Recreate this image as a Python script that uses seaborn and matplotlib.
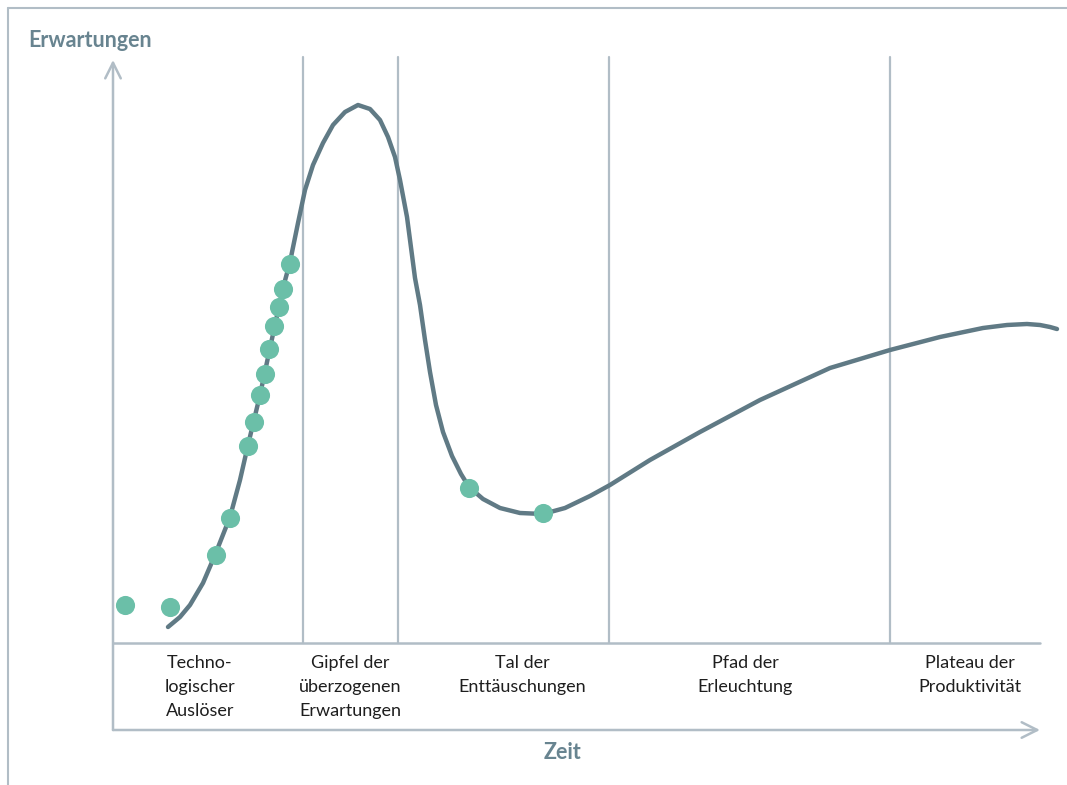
import numpy as np
import pandas as pd
import matplotlib
matplotlib.use("Agg")
import matplotlib.pyplot as plt
import seaborn as sns

# hype curve, time (t) vs expectation (e)
curve_t = [5.5, 6.7, 7.7, 9.0, 10.2, 11.7, 12.7, 13.5, 14.7, 15.7, 17.0, 17.7, 18.5,
           19.2, 20.0, 21.0, 22.0, 23.2, 24.5, 25.7, 26.7, 27.5, 28.2, 28.7, 29.4,
           30.2, 30.7, 31.2, 31.7, 32.3, 33.0, 33.9, 34.8, 35.6, 37.0, 38.7, 40.7,
           43.0, 45.2, 47.7, 49.7, 53.7, 58.7, 64.7, 71.7, 77.7, 82.7, 87.0, 89.4,
           91.4, 92.7, 93.7, 94.4]
curve_e = [1.6, 2.6, 3.8, 6.0, 8.8, 12.6, 16.3, 19.8, 24.8, 29.5, 35.5, 38.1, 42.0,
           45.3, 47.8, 50.0, 51.8, 53.1, 53.8, 53.4, 52.3, 50.6, 48.6, 46.3, 42.6,
           36.5, 33.8, 30.3, 27.1, 23.8, 21.1, 18.7, 16.9, 15.6, 14.4, 13.5, 13.0,
           12.9, 13.5, 14.7, 15.8, 18.3, 21.1, 24.3, 27.5, 29.3, 30.6, 31.5, 31.8,
           31.9, 31.8, 31.6, 31.4]

# technologies placed on the curve
dots_t = [1.2, 5.7, 10.3, 11.7, 13.5, 14.1, 14.7, 15.2, 15.6, 16.1, 16.6, 17.0, 17.7, 35.6, 43.0]
dots_e = [3.8, 3.6, 8.8, 12.5, 19.7, 22.1, 24.8, 26.9, 29.4, 31.7, 33.6, 35.4, 37.9, 15.5, 13.0]

phase_bounds = [19.0, 28.5, 49.6, 77.7]
phase_labels = ["Techno-\nlogischer\nAuslöser", "Gipfel der\nüberzogenen\nErwartungen",
                "Tal der\nEnttäuschungen", "Pfad der\nErleuchtung", "Plateau der\nProduktivität"]
phase_label_t = [8.7, 23.7, 40.9, 63.2, 85.7]

sns.set_style("white")
plt.rcParams["font.family"] = ["Lato", "DejaVu Sans"]

axis_col = "#B1BDC6"
curve_col = "#607A85"
dot_col = "#6BBFA8"
title_col = "#688490"

fig = plt.figure(figsize=(10.67, 7.85), dpi=100)
ax = fig.add_axes([0, 0, 1, 1])
ax.set_xlim(-11.3, 95.4)
ax.set_ylim(-14.2, 64.3)
ax.axis("off")

# outer frame (top and left)
ax.plot([-10.5, 95.4], [63.5, 63.5], color=axis_col, lw=1.5)
ax.plot([-10.5, -10.5], [-14.2, 63.5], color=axis_col, lw=1.5)

# phase separators
for b in phase_bounds:
    ax.plot([b, b], [0, 58.6], color=axis_col, lw=1.6)
ax.plot([0, 92.7], [0, 0], color=axis_col, lw=1.8)

# axes with arrows
arrow = dict(arrowstyle="->", color=axis_col, lw=1.8, mutation_scale=28, shrinkA=0, shrinkB=0)
ax.annotate("", xy=(0, 58.3), xytext=(0, -8.7), arrowprops=arrow)
ax.annotate("", xy=(92.7, -8.7), xytext=(0, -8.7), arrowprops=arrow)

df_curve = pd.DataFrame({"t": curve_t, "e": curve_e})
sns.lineplot(data=df_curve, x="t", y="e", sort=False, color=curve_col, lw=3.2,
             ax=ax, solid_capstyle="round", solid_joinstyle="round")
df_dots = pd.DataFrame({"t": dots_t, "e": dots_e})
sns.scatterplot(data=df_dots, x="t", y="e", color=dot_col, s=190, linewidth=0,
                ax=ax, zorder=5)

for lbl, t in zip(phase_labels, phase_label_t):
    ax.text(t, -1.2, lbl, ha="center", va="top", fontsize=13, color="#1E1E1E",
            linespacing=1.62)

ax.text(-8.5, 59.6, "Erwartungen", ha="left", va="baseline", fontsize=15.5,
        fontweight="bold", color=title_col)
ax.text(45.0, -11.6, "Zeit", ha="center", va="baseline", fontsize=15.5,
        fontweight="bold", color=title_col)

ax.set_xlabel("")
ax.set_ylabel("")
fig.savefig("out.png", dpi=100)
